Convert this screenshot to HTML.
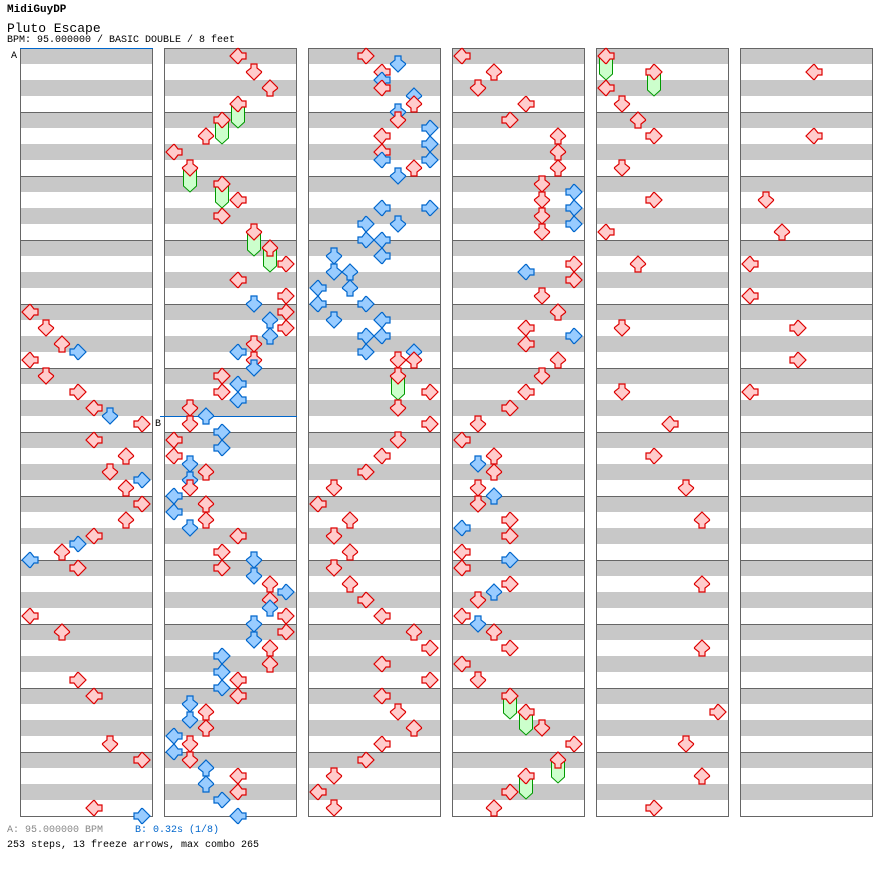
<!DOCTYPE html>
<html><head><meta charset="utf-8">
<style>
html,body{margin:0;padding:0;background:#fff;}
body{width:896px;height:876px;overflow:hidden;position:relative;font-family:"Liberation Mono",monospace;}
.t{position:absolute;white-space:pre;line-height:1;}
</style></head><body>
<div class="t" style="left:7px;top:5px;font-size:11px;font-weight:bold;">MidiGuyDP</div>
<div class="t" style="left:7px;top:22px;font-size:13px;">Pluto Escape</div>
<div class="t" style="left:7px;top:36px;font-size:10px;">BPM: 95.000000 / BASIC DOUBLE / 8 feet</div>
<div class="t" style="left:7px;top:826px;font-size:10px;color:#888;">A: 95.000000 BPM</div>
<div class="t" style="left:135px;top:826px;font-size:10px;color:#0066cc;">B: 0.32s (1/8)</div>
<div class="t" style="left:7px;top:841px;font-size:10px;">253 steps, 13 freeze arrows, max combo 265</div>
<svg id="s" width="896" height="876" style="position:absolute;left:0;top:0" xmlns="http://www.w3.org/2000/svg"></svg>
<script>
var D=[
"0,312,r 1,328,r 2,344,r 3,352,b 0,360,r 1,376,r 3,392,r 4,408,r 5,416,b 7,424,r 4,440,r 6,456,r 5,472,r 7,480,b 6,488,r 7,504,r 6,520,r 4,536,r 3,544,b 2,552,r 0,560,b 3,568,r 0,616,r 2,632,r 3,680,r 4,696,r 5,744,r 7,760,r 4,808,r 7,816,b",
"4,56,r 5,72,r 6,88,r 4,104,r,128 3,120,r,144 2,136,r 0,152,r 1,168,r,192 3,184,r,208 4,200,r 3,216,r 5,232,r,256 6,248,r,272 7,264,r 4,280,r 7,296,r 5,304,b 7,312,r 6,320,b 7,328,r 6,336,b 5,344,r 4,352,b 5,360,r 5,368,b 3,376,r 4,384,b 3,392,r 4,400,b 1,408,r 2,416,b 1,424,r 3,432,b 0,440,r 3,448,b 0,456,r 1,464,b 2,472,r 1,480,b 1,488,r 0,496,b 2,504,r 0,512,b 2,520,r 1,528,b 4,536,r 3,552,r 5,560,b 3,568,r 5,576,b 6,584,r 7,592,b 6,600,r 6,608,b 7,616,r 5,624,b 7,632,r 5,640,b 6,648,r 3,656,b 6,664,r 3,672,b 4,680,r 3,688,b 4,696,r 1,704,b 2,712,r 1,720,b 2,728,r 0,736,b 1,744,r 0,752,b 1,760,r 2,768,b 4,776,r 2,784,b 4,792,r 3,800,b 4,816,b",
"3,56,r 5,64,b 4,72,r 4,80,b 4,88,r 6,96,b 6,104,r 5,112,b 5,120,r 7,128,b 4,136,r 7,144,b 4,152,r 4,160,b 7,160,b 6,168,r 5,176,b 4,208,b 7,208,b 3,224,b 5,224,b 3,240,b 4,240,b 1,256,b 4,256,b 1,272,b 2,272,b 0,288,b 2,288,b 0,304,b 3,304,b 1,320,b 4,320,b 3,336,b 4,336,b 3,352,b 6,352,b 5,360,r 6,360,r 5,376,r,400 7,392,r 5,408,r 7,424,r 5,440,r 4,456,r 3,472,r 1,488,r 0,504,r 2,520,r 1,536,r 2,552,r 1,568,r 2,584,r 3,600,r 4,616,r 6,632,r 7,648,r 4,664,r 7,680,r 4,696,r 5,712,r 6,728,r 4,744,r 3,760,r 1,776,r 0,792,r 1,808,r",
"0,56,r 2,72,r 1,88,r 4,104,r 3,120,r 6,136,r 6,152,r 6,168,r 5,184,r 7,192,b 5,200,r 7,208,b 5,216,r 7,224,b 5,232,r 7,264,r 4,272,b 7,280,r 5,296,r 6,312,r 4,328,r 7,336,b 4,344,r 6,360,r 5,376,r 4,392,r 3,408,r 1,424,r 0,440,r 2,456,r 1,464,b 2,472,r 1,488,r 2,496,b 1,504,r 3,520,r 0,528,b 3,536,r 0,552,r 3,560,b 0,568,r 3,584,r 2,592,b 1,600,r 0,616,r 1,624,b 2,632,r 3,648,r 0,664,r 1,680,r 3,696,r,719 4,712,r,735 5,728,r 7,744,r 6,760,r,783 4,776,r,799 3,792,r 2,808,r",
"0,56,r,80 3,72,r,96 0,88,r 1,104,r 2,120,r 3,136,r 1,168,r 3,200,r 0,232,r 2,264,r 1,328,r 1,392,r 4,424,r 3,456,r 5,488,r 6,520,r 6,584,r 6,648,r 7,712,r 5,744,r 6,776,r 3,808,r",
"4,72,r 4,136,r 1,200,r 2,232,r 0,264,r 0,296,r 3,328,r 3,360,r 0,392,r"
];
var o='';
for(var c=0;c<6;c++){
 var L=20+144*c;
 for(var m=0;m<12;m++){for(var k=0;k<4;k+=2){o+='<rect x="'+L+'" y="'+(48+m*64+k*16)+'" width="132" height="16" fill="#c8c8c8"/>';}}
 for(var m=1;m<12;m++){o+='<line x1="'+L+'" x2="'+(L+132)+'" y1="'+(48.5+m*64)+'" y2="'+(48.5+m*64)+'" stroke="#666"/>';}
 o+='<rect x="'+(L+0.5)+'" y="48.5" width="132" height="768" fill="none" stroke="#666"/>';
}
o+='<line x1="20" x2="153" y1="48.5" y2="48.5" stroke="#0066cc"/>';
o+='<line x1="160" x2="297" y1="416.5" y2="416.5" stroke="#0066cc"/>';
o+='<text x="11" y="58" font-family="Liberation Mono,monospace" font-size="10">A</text>';
o+='<text x="155" y="426" font-family="Liberation Mono,monospace" font-size="10">B</text>';
var rot=[-90,180,0,90];
var fr='',ar='';
for(var c=0;c<6;c++){
 D[c].split(' ').forEach(function(s){
  var p=s.split(','),ln=+p[0],y=+p[1],col=p[2];
  var x=20+144*c+2+ln*16, cx=x+8;
  if(p[3]){var e=+p[3];
   fr+='<path d="M'+(x+1.5)+','+y+' L'+(x+14.5)+','+y+' L'+(x+14.5)+','+(e-6)+' L'+cx+','+e+' L'+(x+1.5)+','+(e-6)+' Z" fill="#ccffcc" stroke="#009900"/>';}
  var st=col=='b'?'#0066cc':'#dd0000', fl=col=='b'?'#99ccff':'#ffcccc';
  ar+='<path transform="translate('+cx+','+y+') rotate('+rot[ln%4]+')" d="M0,-8 L7.5,-0.5 L7.5,0.5 L3,4 L3,8 L-3,8 L-3,4 L-7.5,0.5 L-7.5,-0.5 Z" fill="'+fl+'" stroke="'+st+'" stroke-width="1.2"/>';
 });
}
document.getElementById('s').innerHTML=o+fr+ar;
</script>
</body></html>
